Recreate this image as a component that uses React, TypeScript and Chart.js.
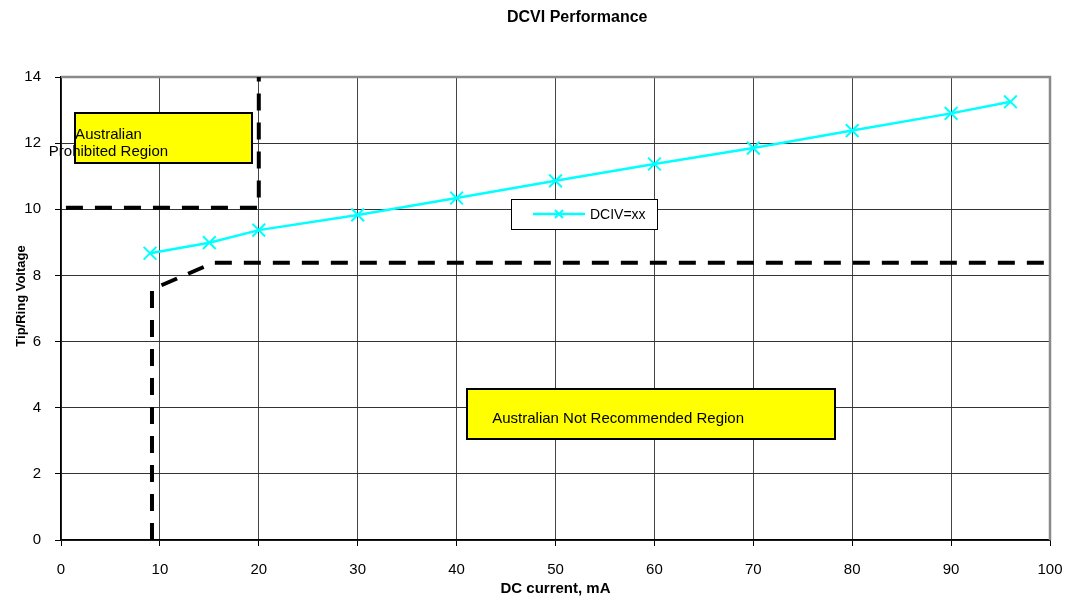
import React, { useEffect, useRef } from "react";
import { Chart, registerables } from "chart.js";

Chart.register(...registerables);

// DCIV measured curve
const currentMA = [9, 15, 20, 30, 40, 50, 60, 70, 80, 90, 96];
const dcivVolts = [8.67, 8.99, 9.37, 9.83, 10.34, 10.86, 11.37, 11.85, 12.38, 12.9, 13.25];

// Not-recommended boundary (lower dashed line)
const lowLimitX = [9.2, 9.2, 15.4, 100];
const lowLimitY = [0, 7.58, 8.38, 8.38];

// Prohibited boundary (upper dashed line)
const highLimitX = [0.5, 20, 20];
const highLimitY = [10.05, 10.05, 14];

const seriesName = "DCIV=xx";
const chartTitle = "DCVI Performance";
const xTitle = "DC current, mA";
const yTitle = "Tip/Ring Voltage";
const prohibitedLabel = ["Australian", "Prohibited Region"];
const notRecommendedLabel = "Australian Not Recommended Region";

const FONT = '"Liberation Sans", Arial, sans-serif';
const CYAN = "#00FFFF";

const toPoints = (xs: number[], ys: number[]) => xs.map((x, i) => ({ x, y: ys[i] }));

const overlayPlugin = {
  id: "overlay",
  beforeDatasetsDraw(chart: any) {
    const { ctx, chartArea: a } = chart;
    ctx.save();
    ctx.strokeStyle = "#8a8a8a";
    ctx.lineWidth = 2.5;
    ctx.beginPath();
    ctx.moveTo(a.left, a.top);
    ctx.lineTo(a.right, a.top);
    ctx.lineTo(a.right, a.bottom);
    ctx.stroke();
    ctx.restore();
  },
  afterDatasetsDraw(chart: any) {
    const { ctx } = chart;
    const xs = chart.scales.x;
    const ys = chart.scales.y;
    const px = (v: number) => xs.getPixelForValue(v);
    const py = (v: number) => ys.getPixelForValue(v);
    const box = (x0: number, y0: number, x1: number, y1: number, fill: string, lw: number) => {
      const l = Math.round(px(x0)), r = Math.round(px(x1));
      const t = Math.round(py(y0)), b = Math.round(py(y1));
      ctx.fillStyle = fill;
      ctx.fillRect(l, t, r - l, b - t);
      ctx.strokeStyle = "#000";
      ctx.lineWidth = lw;
      ctx.strokeRect(l, t, r - l, b - t);
    };
    ctx.save();
    // Prohibited region label box
    box(1.42, 12.91, 19.3, 11.4, "#FFFF00", 2);
    ctx.fillStyle = "#000";
    ctx.font = `15px ${FONT}`;
    ctx.textAlign = "center";
    ctx.textBaseline = "middle";
    ctx.fillText(prohibitedLabel[0], px(4.8), py(12.25));
    ctx.fillText(prohibitedLabel[1], px(4.8), py(11.73));

    // Not recommended region label box
    box(41.05, 4.57, 78.26, 3.05, "#FFFF00", 2);
    ctx.fillStyle = "#000";
    ctx.textAlign = "left";
    ctx.fillText(notRecommendedLabel, px(43.6), py(3.66));

    // Legend box
    const lx0 = 511, ly0 = 199, lx1 = 657, ly1 = 229;
    ctx.fillStyle = "#fff";
    ctx.fillRect(lx0, ly0, lx1 - lx0, ly1 - ly0);
    ctx.strokeStyle = "#000";
    ctx.lineWidth = 1;
    ctx.strokeRect(lx0 + 0.5, ly0 + 0.5, lx1 - lx0, ly1 - ly0);
    const my = 214;
    ctx.strokeStyle = CYAN;
    ctx.lineWidth = 2.5;
    ctx.beginPath();
    ctx.moveTo(533, my);
    ctx.lineTo(585, my);
    ctx.stroke();
    ctx.lineWidth = 2;
    ctx.beginPath();
    ctx.moveTo(555, my - 4);
    ctx.lineTo(563, my + 4);
    ctx.moveTo(563, my - 4);
    ctx.lineTo(555, my + 4);
    ctx.stroke();
    ctx.fillStyle = "#000";
    ctx.font = `14px ${FONT}`;
    ctx.textAlign = "left";
    ctx.fillText(seriesName, 590, my + 1);
    ctx.restore();
  },
  afterDraw(chart: any) {
    const { ctx } = chart;
    ctx.save();
    ctx.fillStyle = "#000";
    ctx.font = `bold 16px ${FONT}`;
    ctx.textAlign = "left";
    ctx.textBaseline = "middle";
    ctx.fillText(chartTitle, 507, 18);
    ctx.translate(21, 296);
    ctx.rotate(-Math.PI / 2);
    ctx.font = `bold 13px ${FONT}`;
    ctx.textAlign = "center";
    ctx.fillText(yTitle, 0, 0);
    ctx.restore();
  },
};

export default function App() {
  const ref = useRef<HTMLCanvasElement | null>(null);

  useEffect(() => {
    if (!ref.current) return;
    const chart = new Chart(ref.current, {
      type: "scatter",
      data: {
        datasets: [
          {
            label: seriesName,
            data: toPoints(currentMA, dcivVolts),
            showLine: true,
            borderColor: CYAN,
            backgroundColor: CYAN,
            borderWidth: 2.5,
            pointStyle: "crossRot",
            pointRadius: 9,
            pointBorderWidth: 2,
            pointBorderColor: CYAN,
            order: 0,
          },
          {
            label: "low limit",
            data: toPoints(lowLimitX, lowLimitY),
            showLine: true,
            borderColor: "#000",
            borderWidth: 4,
            borderDash: [17, 12],
            pointRadius: 0,
            order: 1,
          },
          {
            label: "high limit",
            data: toPoints(highLimitX, highLimitY),
            showLine: true,
            borderColor: "#000",
            borderWidth: 4,
            borderDash: [17, 12],
            pointRadius: 0,
            order: 1,
          },
        ],
      },
      options: {
        responsive: false,
        animation: false,
        layout: { padding: { top: 77, right: 0, left: 0, bottom: 0 } },
        plugins: {
          legend: { display: false },
          tooltip: { enabled: false },
          title: { display: false },
        },
        scales: {
          x: {
            type: "linear",
            min: 0,
            max: 100,
            ticks: {
              stepSize: 10,
              color: "#000",
              font: { family: FONT, size: 15 },
              padding: 15,
              maxRotation: 0,
            },
            grid: { color: "#444", lineWidth: 1, tickLength: 6, tickColor: "#000" },
            border: { color: "#000", width: 1.5 },
            title: {
              display: true,
              text: xTitle,
              color: "#000",
              font: { family: FONT, size: 15, weight: "bold", lineHeight: 1 },
              padding: 0,
            },
            afterFit: (s: any) => {
              s.height = 56;
              s.paddingRight = 15;
              s.paddingLeft = 0;
            },
          },
          y: {
            type: "linear",
            min: 0,
            max: 14,
            ticks: {
              stepSize: 2,
              color: "#000",
              font: { family: FONT, size: 15 },
              padding: 14,
            },
            grid: { color: "#333", lineWidth: 1, tickLength: 6, tickColor: "#000" },
            border: { color: "#000", width: 1.5 },
            afterFit: (s: any) => {
              s.width = 61;
            },
          },
        },
      },
      plugins: [overlayPlugin],
    } as any);
    return () => chart.destroy();
  }, []);

  return (
    <div style={{ position: "fixed", left: 0, top: 0, width: 1065, height: 596, background: "#fff" }}>
      <canvas ref={ref} width={1065} height={596} />
    </div>
  );
}
